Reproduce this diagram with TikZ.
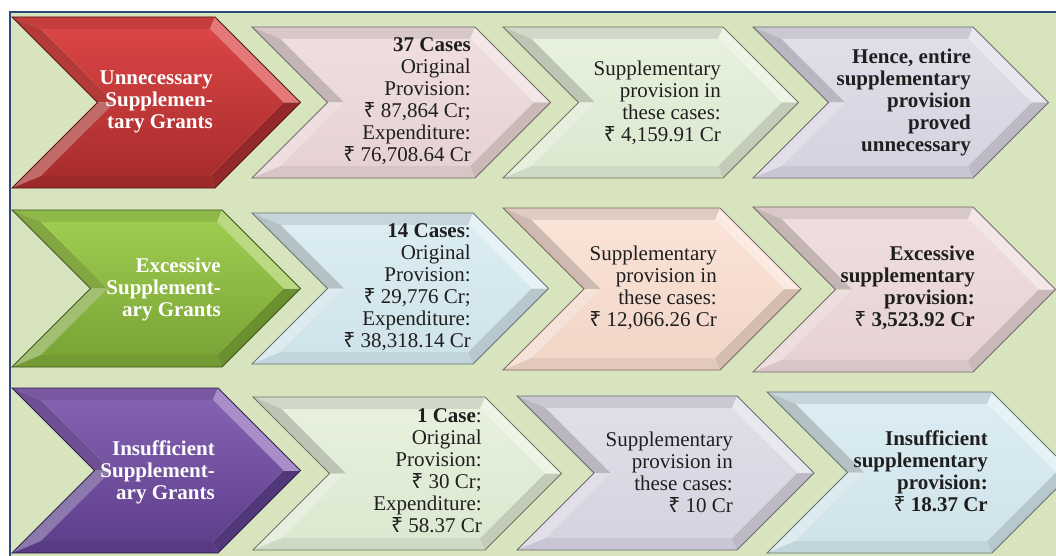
\documentclass[tikz,border=0pt]{standalone}
\usepackage{fontspec}
\setmainfont{Liberation Serif}
\newfontfamily\rupeefont{Noto Sans}
\newcommand\Rs{{\rupeefont\mdseries\fontsize{21}{22}\selectfont ₹}}
\definecolor{bggreen}{HTML}{D7E4BD}
\definecolor{frameblue}{HTML}{2B4A7A}
\definecolor{redT}{HTML}{DB4545}\definecolor{redB}{HTML}{A82C2C}
\definecolor{grnT}{HTML}{9ECC50}\definecolor{grnB}{HTML}{7AA436}
\definecolor{purT}{HTML}{8462B3}\definecolor{purB}{HTML}{5E3F8C}
\definecolor{pinkT}{HTML}{F0DEDE}\definecolor{pinkB}{HTML}{E6D2D2}
\definecolor{lgT}{HTML}{E7F1DD}\definecolor{lgB}{HTML}{DCE8D0}
\definecolor{lavT}{HTML}{E1DEE9}\definecolor{lavB}{HTML}{D6D2E0}
\definecolor{lbT}{HTML}{DBEDF3}\definecolor{lbB}{HTML}{CFE3EA}
\definecolor{peT}{HTML}{FAE3D7}\definecolor{peB}{HTML}{F2D6C8}
\def\bev{12}
\newcommand\chev[7]{%
  \pgfmathsetmacro\hh{(#3-#2)/2}%
  \pgfmathsetmacro\mm{(#3+#2)/2}%
  \pgfmathsetmacro\pp{#4+\hh}%
  \pgfmathsetmacro\nn{#1+\hh}%
  \pgfmathsetmacro\ax{#1+\bev*2.414}%
  \pgfmathsetmacro\ty{#2+\bev}%
  \pgfmathsetmacro\by{#3-\bev}%
  \pgfmathsetmacro\bx{#4-\bev*0.414}%
  \pgfmathsetmacro\cx{\pp-\bev*1.414}%
  \pgfmathsetmacro\fx{\nn+\bev*1.414}%
  \coordinate (#7-A) at (#1,#2);
  \coordinate (#7-B) at (#4,#2);
  \coordinate (#7-C) at (\pp,\mm);
  \coordinate (#7-D) at (#4,#3);
  \coordinate (#7-E) at (#1,#3);
  \coordinate (#7-F) at (\nn,\mm);
  \coordinate (#7-a) at (\ax,\ty);
  \coordinate (#7-b) at (\bx,\ty);
  \coordinate (#7-c) at (\cx,\mm);
  \coordinate (#7-d) at (\bx,\by);
  \coordinate (#7-e) at (\ax,\by);
  \coordinate (#7-f) at (\fx,\mm);
  \fill[#5!90!black] (#7-A)--(#7-B)--(#7-b)--(#7-a)--cycle;
  \fill[#5!82!black] (#7-A)--(#7-a)--(#7-f)--(#7-F)--cycle;
  \fill[#6!70!white] (#7-F)--(#7-f)--(#7-e)--(#7-E)--cycle;
  \fill[#6!94!black] (#7-E)--(#7-e)--(#7-d)--(#7-D)--cycle;
  \fill[#6!88!black] (#7-D)--(#7-d)--(#7-c)--(#7-C)--cycle;
  \fill[#5!72!white] (#7-B)--(#7-C)--(#7-c)--(#7-b)--cycle;
  \shade[top color=#5, bottom color=#6] (#7-a)--(#7-b)--(#7-c)--(#7-d)--(#7-e)--(#7-f)--cycle;
  \draw[chevline,draw=#6!50!black] (#7-A)--(#7-B)--(#7-C)--(#7-D)--(#7-E)--(#7-F)--cycle;
}
\tikzset{
  chevline/.style={line width=0.8pt, line join=miter},
  txt/.style={font=\fontsize{21}{22}\selectfont, align=right, inner sep=0pt, anchor=east, text=black!88},
  ttl/.style={font=\fontsize{21}{22}\selectfont\bfseries, align=right, inner sep=0pt, anchor=east, text=white},
}
\begin{document}
\begin{tikzpicture}[x=1pt,y=-1pt]
\useasboundingbox (0,0) rectangle (1056,556);
\clip (0,0) rectangle (1056,556);
\fill[white] (0,0) rectangle (1056,556);
\fill[bggreen] (10,12) rectangle (1060,560);
\draw[frameblue, line width=1.6pt] (10,560) -- (10,12) -- (1060,12);
% row 1
\chev{12}{17}{188}{215}{redT}{redB}{r1a}
\chev{252}{27}{178}{475}{pinkT}{pinkB}{r1b}
\chev{503}{27}{178}{723}{lgT}{lgB}{r1c}
\chev{753}{27}{178}{973}{lavT}{lavB}{r1d}
% row 2
\chev{12}{210}{367}{222}{grnT}{grnB}{r2a}
\chev{252}{213}{364}{473}{lbT}{lbB}{r2b}
\chev{503}{208}{370}{720}{peT}{peB}{r2c}
\chev{753}{207}{372}{973}{pinkT}{pinkB}{r2d}
% row 3
\chev{12}{388}{553}{218}{purT}{purB}{r3a}
\chev{253}{397}{550}{485}{lgT}{lgB}{r3b}
\chev{517}{396}{550}{737}{lavT}{lavB}{r3c}
\chev{767}{392}{553}{992}{lbT}{lbB}{r3d}
% texts
\node[ttl] (t1a) at (213,102) {Unnecessary\\Supplemen-\\tary Grants};
\node[txt] (t1b) at (471,101.5) {\textbf{37 Cases}\\Original\\Provision:\\\Rs\ 87,864 Cr;\\Expenditure:\\\Rs\ 76,708.64 Cr};
\node[txt] (t1c) at (721,102.5) {Supplementary\\provision in\\these cases:\\\Rs\ 4,159.91 Cr};
\node[txt,font=\fontsize{21}{22}\selectfont\bfseries] (t1d) at (971,102) {Hence, entire\\supplementary\\provision\\proved\\unnecessary};
\node[ttl] (t2a) at (221,289) {Excessive\\Supplement-\\ary Grants};
\node[txt] (t2b) at (471,287) {\textbf{14 Cases}:\\Original\\Provision:\\\Rs\ 29,776 Cr;\\Expenditure:\\\Rs\ 38,318.14 Cr};
\node[txt] (t2c) at (717,288) {Supplementary\\provision in\\these cases:\\\Rs\ 12,066.26 Cr};
\node[txt] (t2d) at (975,288) {\textbf{Excessive}\\\textbf{supplementary}\\\textbf{provision:}\\\Rs\ \textbf{3,523.92 Cr}};
\node[ttl] (t3a) at (215,472.5) {Insufficient\\Supplement-\\ary Grants};
\node[txt] (t3b) at (482,471) {\textbf{1 Case}:\\Original\\Provision:\\\Rs\ 30 Cr;\\Expenditure:\\\Rs\ 58.37 Cr};
\node[txt] (t3c) at (733,472.5) {Supplementary\\provision in\\these cases:\\\Rs\ 10 Cr};
\node[txt] (t3d) at (988,471.5) {\textbf{Insufficient}\\\textbf{supplementary}\\\textbf{provision:}\\\Rs\ \textbf{18.37 Cr}};
\end{tikzpicture}
\end{document}
